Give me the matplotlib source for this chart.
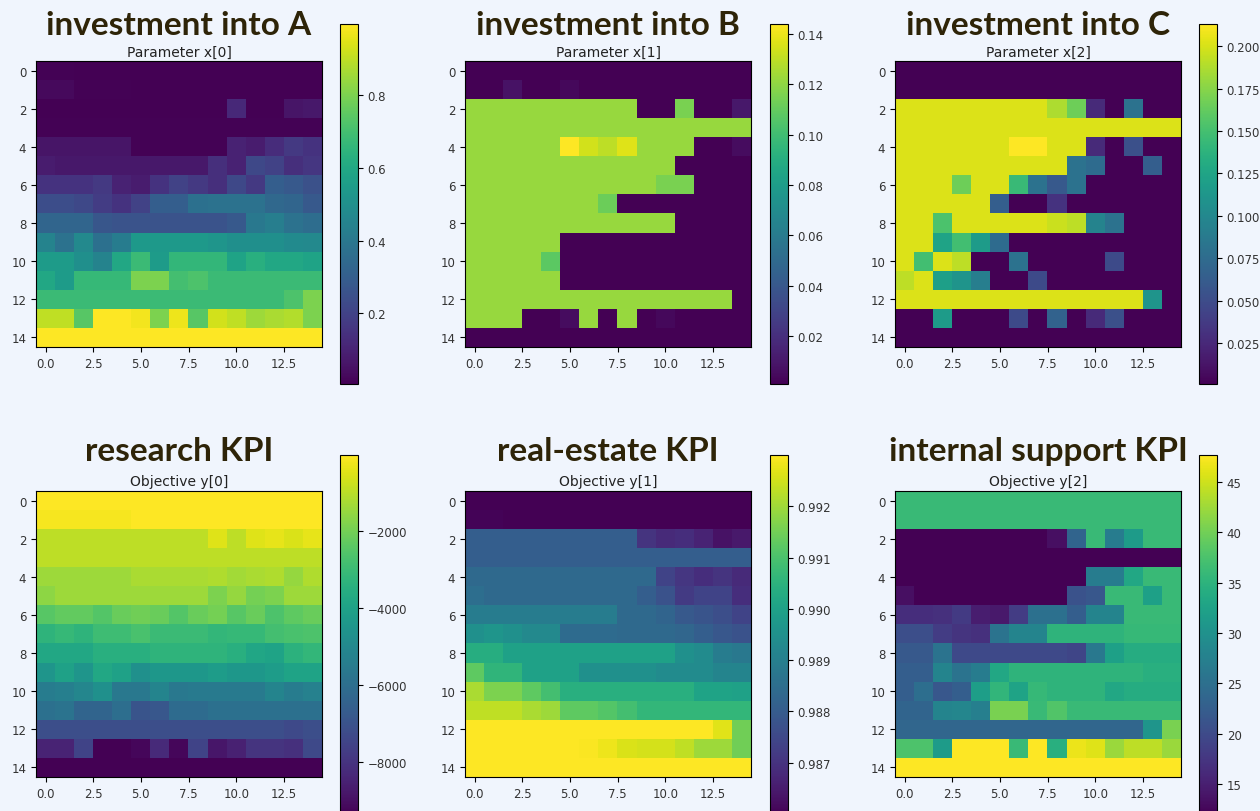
import matplotlib
matplotlib.use('Agg')
from matplotlib import pyplot as plt
import numpy as np

# ---- data (15x15 grids) ----

invest_a = [
    [0.01, 0.01, 0.005, 0.005, 0.005, 0.005, 0.005, 0.005, 0.005, 0.005, 0.005, 0.005, 0.005, 0.005, 0.005],
    [0.03, 0.03, 0.01, 0.01, 0.01, 0.005, 0.005, 0.005, 0.005, 0.005, 0.005, 0.005, 0.005, 0.005, 0.005],
    [0.005, 0.005, 0.005, 0.005, 0.005, 0.005, 0.005, 0.005, 0.005, 0.005, 0.12, 0.005, 0.005, 0.06, 0.07],
    [0.01] * 15,
    [0.06, 0.06, 0.06, 0.06, 0.06, 0.01, 0.01, 0.01, 0.01, 0.01, 0.10, 0.08, 0.13, 0.17, 0.15],
    [0.08, 0.07, 0.07, 0.07, 0.07, 0.07, 0.07, 0.07, 0.07, 0.14, 0.10, 0.22, 0.20, 0.14, 0.16],
    [0.15, 0.15, 0.15, 0.17, 0.10, 0.08, 0.15, 0.20, 0.17, 0.14, 0.22, 0.17, 0.30, 0.28, 0.25],
    [0.24, 0.24, 0.22, 0.18, 0.15, 0.20, 0.30, 0.30, 0.37, 0.38, 0.38, 0.38, 0.34, 0.33, 0.28],
    [0.33, 0.33, 0.33, 0.27, 0.26, 0.26, 0.26, 0.26, 0.26, 0.26, 0.28, 0.40, 0.43, 0.38, 0.36],
    [0.45, 0.38, 0.47, 0.37, 0.42, 0.54, 0.54, 0.54, 0.54, 0.52, 0.50, 0.50, 0.50, 0.48, 0.47],
    [0.55, 0.55, 0.50, 0.45, 0.60, 0.68, 0.55, 0.66, 0.66, 0.66, 0.58, 0.63, 0.60, 0.60, 0.58],
    [0.60, 0.55, 0.67, 0.67, 0.67, 0.80, 0.80, 0.70, 0.72, 0.68, 0.68, 0.68, 0.68, 0.68, 0.68],
    [0.68] * 13 + [0.72, 0.80],
    [0.90, 0.90, 0.74, 0.996, 0.996, 0.98, 0.80, 0.97, 0.74, 0.93, 0.90, 0.85, 0.87, 0.88, 0.80],
    [0.996] * 15,
]

invest_b = [
    [0.001] * 15,
    [0.001, 0.001, 0.008, 0.001, 0.001, 0.004] + [0.001] * 9,
    [0.122] * 9 + [0.001, 0.001, 0.115, 0.001, 0.001, 0.010],
    [0.122] * 15,
    [0.122] * 5 + [0.144, 0.134, 0.130, 0.137] + [0.122] * 3 + [0.001, 0.001, 0.006],
    [0.122] * 11 + [0.001] * 4,
    [0.122] * 10 + [0.115, 0.115] + [0.001] * 3,
    [0.122] * 7 + [0.112] + [0.001] * 7,
    [0.122] * 11 + [0.001] * 4,
    [0.122] * 5 + [0.001] * 10,
    [0.122] * 4 + [0.108] + [0.001] * 10,
    [0.122] * 5 + [0.001] * 10,
    [0.122] * 14 + [0.001],
    [0.122] * 3 + [0.001, 0.001, 0.006, 0.122, 0.001, 0.122, 0.001, 0.004, 0.001, 0.001, 0.001, 0.001],
    [0.001] * 15,
]

invest_c = [
    [0.001] * 15,
    [0.001] * 15,
    [0.202] * 8 + [0.187, 0.166, 0.026, 0.001, 0.081, 0.001, 0.001],
    [0.202] * 15,
    [0.202] * 6 + [0.213, 0.213, 0.202, 0.202, 0.026, 0.001, 0.053, 0.001, 0.001],
    [0.202] * 9 + [0.081, 0.075, 0.001, 0.001, 0.064, 0.001],
    [0.202, 0.202, 0.202, 0.166, 0.202, 0.202, 0.145, 0.081, 0.060, 0.081] + [0.001] * 5,
    [0.202] * 5 + [0.064, 0.001, 0.001, 0.032] + [0.001] * 6,
    [0.202, 0.202, 0.153] + [0.202] * 5 + [0.196, 0.192, 0.096, 0.081, 0.001, 0.001, 0.001],
    [0.202, 0.202, 0.124, 0.149, 0.117, 0.075] + [0.001] * 9,
    [0.202, 0.149, 0.202, 0.192, 0.001, 0.001, 0.081, 0.001, 0.001, 0.001, 0.001, 0.049, 0.001, 0.001, 0.001],
    [0.192, 0.202, 0.121, 0.111, 0.092, 0.001, 0.001, 0.049] + [0.001] * 7,
    [0.202] * 13 + [0.111, 0.001],
    [0.001, 0.001, 0.117, 0.001, 0.001, 0.001, 0.049, 0.001, 0.068, 0.001, 0.026, 0.053, 0.001, 0.001, 0.001],
    [0.001] * 15,
]

kpi_research = [
    [-40] * 15,
    [-150] * 5 + [-60] * 10,
    [-955] * 9 + [-490, -955, -490, -390, -580, -390],
    [-955] * 15,
    [-1420] * 5 + [-1240, -1240, -1240, -1240, -1140, -1330, -1240, -1140, -1520, -1140],
    [-1610] + [-1420] * 8 + [-1890, -1520, -1980, -1890, -1420, -1420],
    [-2450, -2270, -2270, -2550, -2170, -2080, -2170, -2550, -2170, -1980, -2450, -2170, -2640, -2360, -2170],
    [-3290, -3110, -3290, -2920, -2920, -2730, -3010, -3010, -3010, -3200, -3110, -3110, -2830, -2730, -2640],
    [-3760, -3760, -3760, -3480, -3480, -3480, -3290, -3290, -3290, -3290, -3480, -3860, -3950, -3390, -3200],
    [-4510, -4040, -4510, -3760, -4040, -4700, -4420, -4420, -4420, -4230, -4420, -4420, -4230, -3950, -3950],
    [-5450, -5350, -5070, -4700, -5630, -5630, -5170, -5630, -5540, -5540, -5540, -5540, -5170, -5450, -5260],
    [-5910, -5820, -6380, -6380, -6010, -6940, -6850, -6100, -6100, -5910, -5910, -5910, -5910, -5910, -5910],
    [-7130] * 13 + [-7320, -7130],
    [-8440, -8440, -7500, -9370, -9370, -9190, -8250, -9190, -7500, -8800, -8530, -7970, -7970, -8060, -7320],
    [-9370] * 15,
]

kpi_realestate = [
    [0.98598] * 15,
    [0.98604, 0.98604] + [0.98598] * 13,
    [0.98809] * 9 + [0.98703, 0.98682, 0.98689, 0.98668, 0.98632, 0.98646],
    [0.98809] * 15,
    [0.98837] * 10 + [0.98738, 0.98710, 0.98689, 0.98703, 0.98682],
    [0.98851] + [0.98837] * 8 + [0.98809, 0.98774, 0.98717, 0.98738, 0.98738, 0.98689],
    [0.98894] * 8 + [0.98837, 0.98837, 0.98823, 0.98795, 0.98781, 0.98766, 0.98738],
    [0.98950, 0.98964, 0.98950, 0.98929, 0.98929, 0.98844, 0.98844, 0.98844, 0.98837, 0.98837, 0.98837, 0.98830, 0.98809, 0.98788, 0.98774],
    [0.99035, 0.99035] + [0.98999] * 9 + [0.98950, 0.98936, 0.98894, 0.98879],
    [0.99127, 0.99056, 0.99056, 0.98999, 0.98999, 0.98999, 0.98950, 0.98950, 0.98950, 0.98950, 0.98936, 0.98936, 0.98936, 0.98915, 0.98915],
    [0.99211, 0.99162, 0.99162, 0.99127, 0.99091] + [0.99042] * 7 + [0.99006, 0.99006, 0.98999],
    [0.99232, 0.99232, 0.99232, 0.99211, 0.99197, 0.99127, 0.99127, 0.99112, 0.99091] + [0.99063] * 6,
    [0.99300] * 13 + [0.99268, 0.99148],
    [0.99300] * 6 + [0.99296, 0.99282, 0.99261, 0.99254, 0.99254, 0.99232, 0.99197, 0.99197, 0.99148],
    [0.99300] * 15,
]

kpi_support = [
    [36.2] * 15,
    [36.2] * 15,
    [11.9] * 8 + [13.3, 23.4, 36.2, 26.9, 31.6, 36.2, 36.2],
    [11.9] * 15,
    [11.9] * 10 + [26.9, 26.9, 33.4, 36.2, 36.2],
    [13.3] + [11.9] * 8 + [20.9, 21.6, 36.2, 36.2, 32.3, 36.2],
    [16.6, 16.6, 16.9, 18.0, 14.8, 14.4, 18.3, 25.1, 25.1, 22.6, 28.0, 28.0, 36.2, 36.2, 36.2],
    [20.5, 20.5, 18.3, 17.3, 16.9, 25.5, 28.0, 28.0, 35.2, 35.2, 35.2, 35.2, 35.9, 35.9, 35.9],
    [21.9, 21.9, 25.5, 19.8, 19.8, 19.8, 19.8, 19.8, 19.8, 19.4, 26.2, 32.3, 34.1, 34.1, 34.1],
    [22.6, 22.6, 28.0, 25.5, 26.9, 33.4, 35.2, 35.2, 35.2, 35.2, 35.2, 35.2, 35.2, 34.5, 34.5],
    [22.6, 24.8, 21.6, 22.6, 31.9, 35.5, 32.7, 35.9, 35.2, 35.2, 35.2, 33.4, 34.1, 34.1, 34.1],
    [23.4, 23.4, 28.0, 28.4, 27.3, 40.5, 40.5, 36.2, 38.0, 36.2, 36.2, 36.2, 36.2, 36.2, 36.2],
    [23.7] * 13 + [30.5, 40.5],
    [37.7, 37.7, 31.6, 47.7, 47.7, 47.7, 36.2, 47.7, 34.5, 46.6, 45.9, 42.3, 44.1, 44.1, 42.3],
    [47.7] * 15,
]

titles = ['investment into A', 'investment into B', 'investment into C',
          'research KPI', 'real-estate KPI', 'internal support KPI']
subtitles = ['Parameter x[0]', 'Parameter x[1]', 'Parameter x[2]',
             'Objective y[0]', 'Objective y[1]', 'Objective y[2]']
x_ticks = [0.0, 2.5, 5.0, 7.5, 10.0, 12.5]
y_ticks = [0, 2, 4, 6, 8, 10, 12, 14]
cbar_ticks = [
    [0.2, 0.4, 0.6, 0.8],
    [0.02, 0.04, 0.06, 0.08, 0.10, 0.12, 0.14],
    [0.025, 0.050, 0.075, 0.100, 0.125, 0.150, 0.175, 0.200],
    [-8000, -6000, -4000, -2000],
    [0.987, 0.988, 0.989, 0.990, 0.991, 0.992],
    [15, 20, 25, 30, 35, 40, 45],
]
grids = [invest_a, invest_b, invest_c, kpi_research, kpi_realestate, kpi_support]

# ---- layout (pixels of the 1260x812 canvas) ----
W, H = 1260, 812
BG = '#f0f5fd'
TITLE_COLOR = '#2e2408'
TICK_COLOR = '#333333'

ax_left = [36, 465, 895]
ax_w = 286
row_top = [62, 492]
ax_h = 286
cb_left = [340, 770, 1199]
cb_w = 18
cb_top = [25, 456]
cb_h = 360
title_base = [35, 461]


def px_rect(x, y_top, w, h):
    return [x / W, 1 - (y_top + h) / H, w / W, h / H]


fig = plt.figure(figsize=(W / 100, H / 100), dpi=100, facecolor=BG)

for i, data in enumerate(grids):
    r, c = divmod(i, 3)
    ax = fig.add_axes(px_rect(ax_left[c], row_top[r], ax_w, ax_h))
    im = ax.imshow(np.array(data), cmap='viridis', interpolation='nearest')
    ax.set_xticks(x_ticks)
    ax.set_yticks(y_ticks)
    ax.set_title(subtitles[i], fontsize=10, pad=4, color='#222222')
    ax.tick_params(labelsize=8.5, labelcolor=TICK_COLOR)

    cax = fig.add_axes(px_rect(cb_left[c], cb_top[r], cb_w, cb_h))
    cb = fig.colorbar(im, cax=cax, ticks=cbar_ticks[i])
    cb.ax.tick_params(labelsize=8.5, labelcolor=TICK_COLOR)

    fig.text((ax_left[c] + ax_w / 2) / W, 1 - title_base[r] / H, titles[i],
             ha='center', va='baseline', fontsize=24, fontweight='bold',
             family=['Lato', 'DejaVu Sans'], color=TITLE_COLOR)

fig.savefig('out.png', dpi=100, facecolor=BG)
